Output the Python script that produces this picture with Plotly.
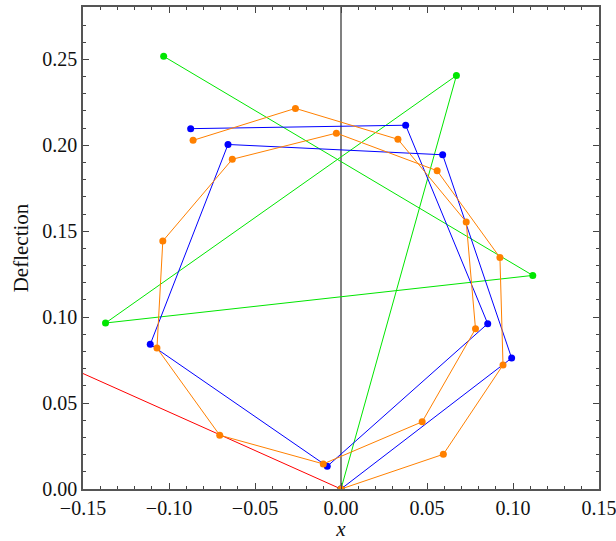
import plotly.graph_objects as go

# Series data
red_x = [0.0, -0.15]
red_y = [0.0, 0.0672]

green_x = [0.0, 0.0671, -0.1369, 0.1115, -0.1031]
green_y = [0.0, 0.2406, 0.0966, 0.1243, 0.2518]

blue_x = [0.0, 0.0992, 0.0591, -0.0657, -0.1109, -0.0080, 0.0853, 0.0376, -0.0874]
blue_y = [0.0, 0.0762, 0.1945, 0.2005, 0.0842, 0.0132, 0.0962, 0.2117, 0.2097]

orange_x = [0.0, 0.0595, 0.0942, 0.0924, 0.0559, -0.0027, -0.0632, -0.1036, -0.1070,
            -0.0705, -0.0103, 0.0472, 0.0782, 0.0728, 0.0331, -0.0265, -0.0860]
orange_y = [0.0, 0.0202, 0.0722, 0.1347, 0.1852, 0.2071, 0.1919, 0.1443, 0.0820,
            0.0313, 0.0146, 0.0391, 0.0932, 0.1554, 0.2035, 0.2215, 0.2029]

x_ticks = [-0.15, -0.10, -0.05, 0.00, 0.05, 0.10, 0.15]
x_tick_labels = ["\u22120.15", "\u22120.10", "\u22120.05", "0.00", "0.05", "0.10", "0.15"]
y_ticks = [0.00, 0.05, 0.10, 0.15, 0.20, 0.25]
y_tick_labels = ["0.00", "0.05", "0.10", "0.15", "0.20", "0.25"]

FONT = "Liberation Serif"

fig = go.Figure()

fig.add_trace(go.Scatter(x=red_x, y=red_y, mode="lines",
                         line=dict(color="#ff0000", width=1), showlegend=False))
fig.add_trace(go.Scatter(x=green_x, y=green_y, mode="lines+markers",
                         line=dict(color="#00e600", width=1),
                         marker=dict(color="#00e600", size=7), showlegend=False))
fig.add_trace(go.Scatter(x=blue_x, y=blue_y, mode="lines+markers",
                         line=dict(color="#0000ff", width=1),
                         marker=dict(color="#0000ff", size=7), showlegend=False))
fig.add_trace(go.Scatter(x=orange_x, y=orange_y, mode="lines+markers",
                         line=dict(color="#ff8000", width=1),
                         marker=dict(color="#ff8000", size=7), showlegend=False))

fig.add_vline(x=0, line=dict(color="#808080", width=2), layer="below")

axis_common = dict(
    showgrid=False, zeroline=False, showline=True, linecolor="#555555", linewidth=1.5,
    mirror="allticks", ticks="inside", ticklen=6, tickwidth=1, tickcolor="#444444",
    tickfont=dict(family=FONT, size=20, color="#111111"),
    automargin=False, ticklabeloverflow="allow",
)

fig.update_xaxes(
    range=[-0.15, 0.15], tickmode="array", tickvals=x_ticks, ticktext=x_tick_labels,
    minor=dict(dtick=0.01, ticks="inside", ticklen=3.5, tickcolor="#444444", showgrid=False),
    title=dict(text="<i>x</i>", font=dict(family=FONT, size=21, color="#111111"), standoff=0),
    **axis_common,
)
fig.update_yaxes(
    range=[0, 0.2805], tickmode="array", tickvals=y_ticks, ticktext=y_tick_labels,
    minor=dict(dtick=0.01, ticks="inside", ticklen=3.5, tickcolor="#444444", showgrid=False),
    title=dict(text="Deflection", font=dict(family=FONT, size=21, color="#111111"), standoff=8),
    **axis_common,
)

fig.update_layout(
    width=616, height=541,
    margin=dict(l=83, r=17, t=7, b=52),
    paper_bgcolor="white", plot_bgcolor="white",
    font=dict(family=FONT),
)

fig.write_html("out.html", config={"displayModeBar": False},
               post_script="document.body.style.margin='0';")
